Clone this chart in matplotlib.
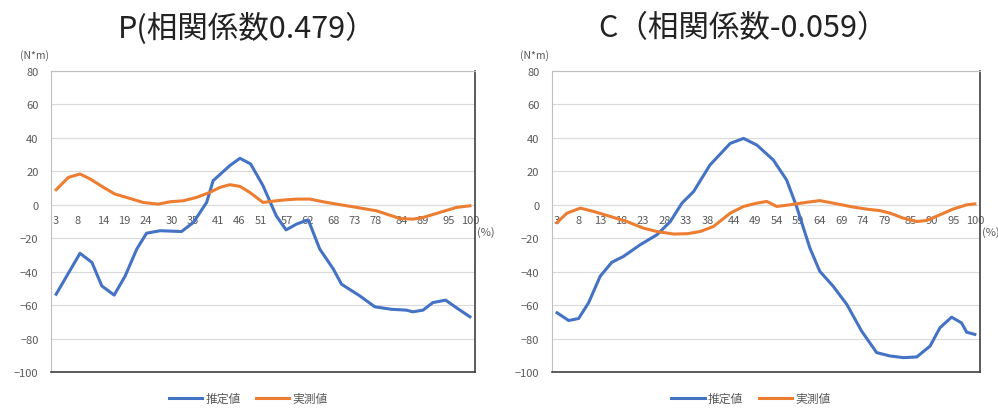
import numpy as np
import matplotlib.pyplot as plt

plt.rcParams['font.family'] = ['Noto Sans CJK JP', 'DejaVu Sans']

# P chart (estimated / measured torque, N*m vs % of cycle)
p_est_x = [3, 8.6, 11.4, 13.7, 16.6, 19.2, 21.9, 24.2, 27.4, 32.4, 35.2, 38.3, 39.8, 43.7, 46.1,
           48.6, 51.5, 54.6, 56.9, 59.4, 62.1, 64.8, 68, 69.9, 74.2, 77.7, 81.6, 85.1, 86.6,
           89, 91.3, 94.3, 96.8, 100]
p_est_y = [-53.5, -29, -34.5, -48.5, -54, -42.5, -26.5, -17, -15.5, -16, -10.5, 1.5, 14.4, 23.4, 27.8,
           24.4, 11.4, -6.6, -15, -11.5, -9, -26.5, -38.5, -47.5, -54.5, -61, -62.5, -63, -64,
           -63, -58.5, -57, -61.5, -67]
p_meas_x = [3, 5.9, 8.6, 11, 14.1, 16.8, 20.3, 23.4, 26.9, 29.7, 32.8, 35.9, 39, 41.4, 43.7, 46.1,
            48.4, 51.5, 54.6, 57, 59.4, 62.5, 65.6, 68.7, 72.6, 78.1, 81.2, 83.6, 86.6, 89,
            92.9, 96.8, 100]
p_meas_y = [9, 16.4, 18.4, 15.4, 10.4, 6.4, 3.8, 1.4, 0.4, 1.8, 2.4, 4.4, 7.4, 10.4, 12, 11,
            7.4, 1.4, 2.4, 3, 3.4, 3.4, 1.8, 0.4, -1.2, -3.6, -6.2, -8.2, -8.6, -7.6,
            -4.6, -1.6, -0.6]
p_ticks = [3, 8, 14, 19, 24, 30, 35, 41, 46, 51, 57, 62, 68, 73, 78, 84, 89, 95, 100]

# C chart
c_est_x = [3, 5.7, 8, 10.3, 13, 15.7, 18.4, 22.3, 26.2, 29.3, 32, 34.7, 38.5, 43.2, 46.3, 49.4,
           53.2, 56.3, 58.6, 61.7, 64, 67.1, 70.3, 73.7, 77.2, 80.3, 83.4, 86.5, 89.6, 91.9,
           94.6, 96.9, 98.1, 100]
c_est_y = [-64.6, -69.2, -68, -58.7, -42.8, -34.4, -30.9, -23.9, -17.9, -10, 1, 7.9, 23.8, 36.7, 39.7,
           35.7, 26.8, 14.8, -1, -25.9, -39.8, -48.7, -59.7, -75.5, -88.4, -90.4, -91.4, -91,
           -84.5, -73.5, -67.2, -70.6, -76.2, -77.5]
c_meas_x = [3, 5.3, 8.4, 11.5, 15.4, 19.2, 23.1, 26.2, 30.1, 33.2, 36.2, 39.3, 43.2, 46.3, 49.4,
            51.7, 54, 57.1, 61, 64, 67.1, 71.8, 74.9, 78, 80.3, 83.4, 86.5, 88.8, 91.9, 94.9,
            98.1, 100]
c_meas_y = [-10.6, -5, -2, -4, -7, -10, -14, -16, -17.5, -17.3, -16, -13, -5, -1, 1,
            2, -1, 0, 1.5, 2.5, 1, -1.4, -2.6, -3.5, -5, -8, -10, -9.4, -6, -2.6,
            0, 0.5]
c_ticks = [3, 8, 13, 18, 23, 28, 33, 38, 44, 49, 54, 59, 64, 69, 74, 79, 85, 90, 95, 100]

BLUE = '#4472C4'
ORANGE = '#ED7D31'
GRAY = '#595959'

fig = plt.figure(figsize=(9.98, 4.1), dpi=100)
ax1 = fig.add_axes([0.0511, 0.0902, 0.4249, 0.7342])
ax2 = fig.add_axes([0.553, 0.0902, 0.429, 0.7342])


def draw(ax, ex, ey, mx, my, ticks, title, tx):
    ax.plot(ex, ey, color=BLUE, lw=2.2, label='推定値', zorder=3)
    ax.plot(mx, my, color=ORANGE, lw=2.2, label='実測値', zorder=3)
    ax.set_xlim(1.8, 101.2)
    ax.set_ylim(-100, 80)
    ax.set_yticks(np.arange(-100, 81, 20))
    ax.tick_params(axis='y', length=0, labelsize=8, labelcolor=GRAY, pad=9)
    ax.set_xticks([])
    ax.grid(axis='y', color='#D9D9D9', lw=0.8)
    ax.set_axisbelow(True)
    for s in ['top', 'left']:
        ax.spines[s].set_color('#BFBFBF')
        ax.spines[s].set_linewidth(0.8)
    for s in ['right', 'bottom']:
        ax.spines[s].set_color('#404040')
        ax.spines[s].set_linewidth(1.2)
    # category labels sit just under the zero line
    sec = ax.secondary_xaxis(100 / 180)
    sec.xaxis.set_ticks_position('bottom')
    sec.set_xticks(ticks)
    sec.set_xticklabels([str(t) for t in ticks])
    sec.tick_params(length=0, labelsize=8, labelcolor=GRAY, pad=7)
    for s in sec.spines.values():
        s.set_visible(False)
    ax.text(1.005, 100 / 180 - 0.09, '(%)', transform=ax.transAxes, fontsize=8,
            color=GRAY, va='center', ha='left')
    ax.text(-0.04, 1.035, '(N*m)', transform=ax.transAxes, fontsize=7.5,
            color=GRAY, va='bottom', ha='center')
    fig.text(tx, 0.93, title, fontsize=22, ha='center', va='center', color='#222222')
    ax.legend(loc='upper center', bbox_to_anchor=(0.465, -0.03), ncol=2, frameon=False,
              fontsize=8.5, handlelength=2.8, columnspacing=1.3, handletextpad=0.3,
              labelcolor=GRAY)


draw(ax1, p_est_x, p_est_y, p_meas_x, p_meas_y, p_ticks, 'P(相関係数0.479）', 0.248)
draw(ax2, c_est_x, c_est_y, c_meas_x, c_meas_y, c_ticks, 'C（相関係数-0.059）', 0.744)

fig.savefig('out.png', dpi=100)
